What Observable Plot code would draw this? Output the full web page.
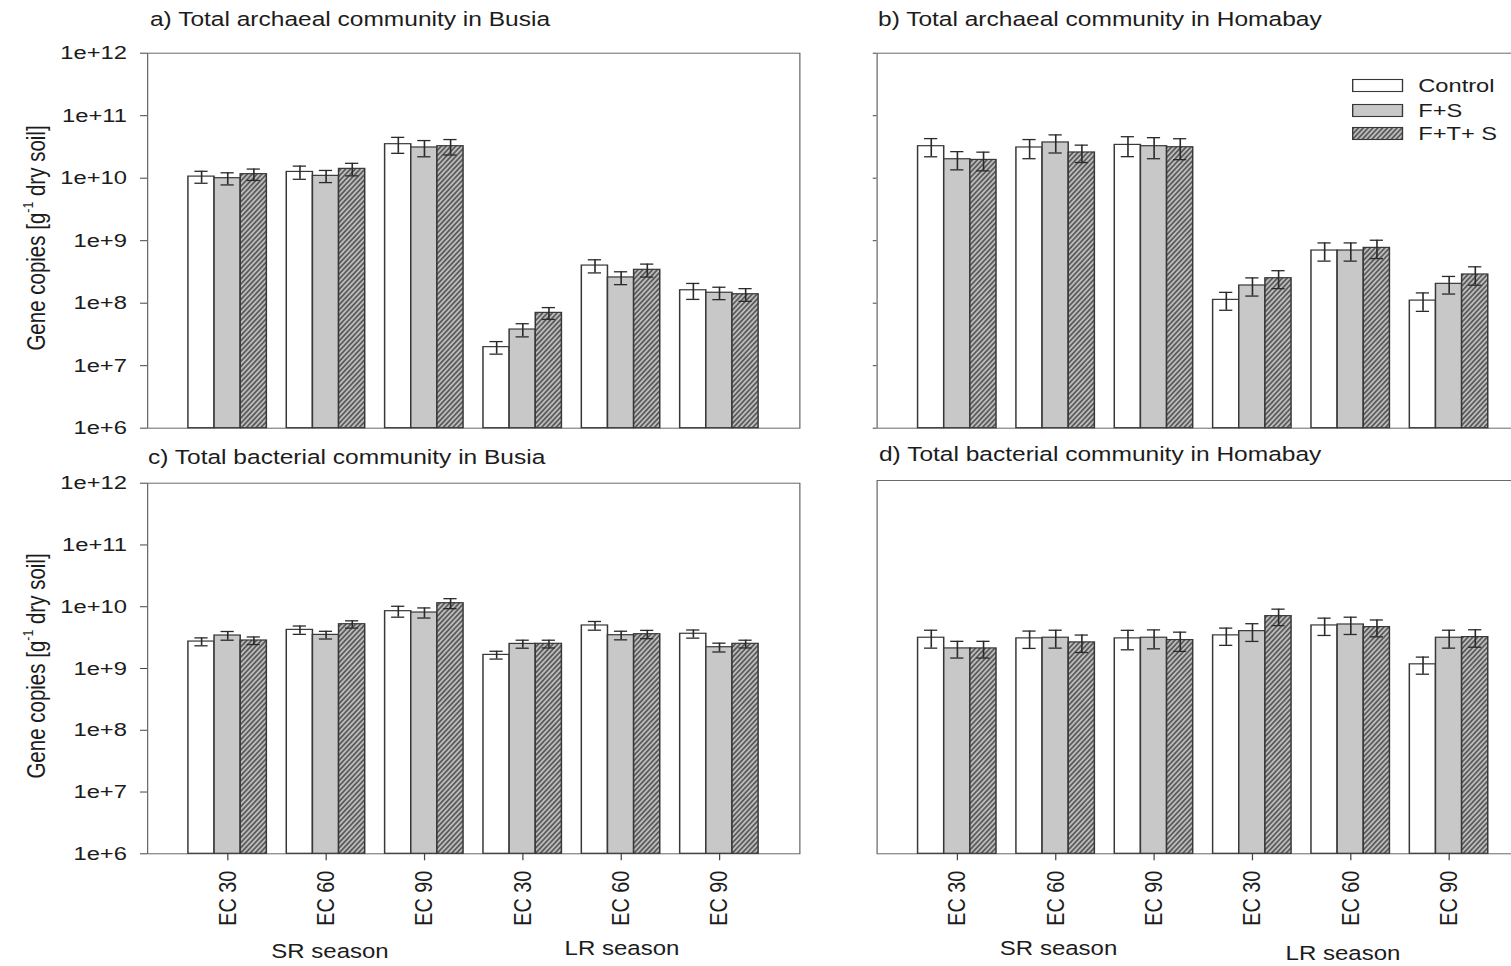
<!DOCTYPE html>
<html>
<head>
<meta charset="utf-8">
<script src="https://cdn.jsdelivr.net/npm/d3@7"></script>
<script src="https://cdn.jsdelivr.net/npm/@observablehq/plot@0.6"></script>
<style>
  html, body { margin: 0; padding: 0; background: #fff; }
  #page { position: relative; width: 1511px; height: 966px; overflow: hidden; background: #fff; }
  /* the whole figure is laid out narrow and widened horizontally */
  #figure { position: absolute; left: 0; top: 0; width: 1214px; height: 966px;
            transform: scaleX(1.245); transform-origin: 0 0;
            font-family: "Liberation Sans", Arial, sans-serif; color: #1c1c1c; }
  .panel { position: absolute; }
  .panel svg { position: absolute; left: 0; top: 0; }
  .title { position: absolute; font-size: 19.7px; line-height: 19.7px; white-space: nowrap; }
  .ylab { position: absolute; font-size: 20.5px; line-height: 20.5px; white-space: nowrap;
          transform: translate(-50%, -50%) rotate(-90deg); }
  .ylab sup { font-size: 0.6em; position: relative; top: -0.15em; }
  .season { position: absolute; font-size: 19.3px; line-height: 19.3px; white-space: nowrap;
            transform: translateX(-50%); }
  .legend-item { position: absolute; font-size: 19px; line-height: 19px; white-space: nowrap; }
  .legend-item svg { position: absolute; left: 0; top: 0; overflow: visible; }
</style>
</head>
<body>
<div id="page"><div id="figure"></div></div>
<script>
const S = 1.245; // horizontal widening of the figure

// ---- categories ----
const treatments = ["Control", "F+S", "F+T+ S"];
const seasons = ["SR", "SR", "SR", "LR", "LR", "LR"];
const ecLevels = ["EC 30", "EC 60", "EC 90", "EC 30", "EC 60", "EC 90"];
const groupKeys = seasons.map((s, i) => `${s} ${ecLevels[i]}`);
const seasonLabels = ["SR season", "LR season"];

// ---- y ticks ----
const yTickValues = [1e6, 1e7, 1e8, 1e9, 1e10, 1e11, 1e12];
const yTickLabels = ["1e+6", "1e+7", "1e+8", "1e+9", "1e+10", "1e+11", "1e+12"];

// ---- a) archaea, Busia (gene copies per g dry soil, mean and error) ----
const archBusiaControl    = [1.06e10, 1.26e10, 3.5e10, 1.98e7, 4.0e8, 1.61e8];
const archBusiaControlErr = [2.3e9, 3.0e9, 1.0e10, 4.5e6, 9.5e7, 4.6e7];
const archBusiaFS         = [1.0e10, 1.09e10, 3.1e10, 3.79e7, 2.58e8, 1.47e8];
const archBusiaFSErr      = [2.2e9, 2.4e9, 9.0e9, 9.0e6, 6.0e7, 3.3e7];
const archBusiaFTS        = [1.16e10, 1.41e10, 3.25e10, 7.0e7, 3.42e8, 1.39e8];
const archBusiaFTSErr     = [2.4e9, 3.2e9, 9.0e9, 1.5e7, 8.0e7, 3.2e7];

// ---- b) archaea, Homabay ----
const archHomaControl    = [3.25e10, 3.1e10, 3.41e10, 1.13e8, 6.96e8, 1.1e8];
const archHomaControlErr = [1.05e10, 1.05e10, 1.2e10, 3.6e7, 2.25e8, 3.6e7];
const archHomaFS         = [2.01e10, 3.73e10, 3.25e10, 1.92e8, 6.96e8, 2.04e8];
const archHomaFSErr      = [6.5e9, 1.2e10, 1.2e10, 6.2e7, 2.25e8, 6.4e7];
const archHomaFTS        = [1.96e10, 2.58e10, 3.13e10, 2.51e8, 7.67e8, 2.88e8];
const archHomaFTSErr     = [6.5e9, 8.0e9, 1.15e10, 8.0e7, 2.5e8, 9.4e7];

// ---- c) bacteria, Busia ----
const bactBusiaControl    = [2.73e9, 4.22e9, 8.47e9, 1.66e9, 4.97e9, 3.65e9];
const bactBusiaControlErr = [4.0e8, 6.5e8, 1.7e9, 2.4e8, 8.0e8, 5.5e8];
const bactBusiaFS         = [3.42e9, 3.5e9, 8.06e9, 2.5e9, 3.46e9, 2.21e9];
const bactBusiaFSErr      = [5.5e8, 5.0e8, 1.5e9, 3.7e8, 5.5e8, 3.6e8];
const bactBusiaFTS        = [2.84e9, 5.21e9, 1.14e10, 2.51e9, 3.59e9, 2.51e9];
const bactBusiaFTSErr     = [4.0e8, 7.0e8, 2.1e9, 3.6e8, 5.5e8, 3.6e8];

// ---- d) bacteria, Homabay ----
const bactHomaControl    = [2.97e9, 2.9e9, 2.9e9, 3.24e9, 4.68e9, 1.11e9];
const bactHomaControlErr = [9.5e8, 9.0e8, 1.0e9, 1.0e9, 1.45e9, 3.4e8];
const bactHomaFS         = [2.0e9, 2.97e9, 2.97e9, 3.79e9, 4.85e9, 2.97e9];
const bactHomaFSErr      = [6.0e8, 9.5e8, 1.0e9, 1.2e9, 1.5e9, 9.5e8];
const bactHomaFTS        = [2.0e9, 2.5e9, 2.72e9, 6.6e9, 4.4e9, 3.04e9];
const bactHomaFTSErr     = [6.0e8, 7.8e8, 9.3e8, 1.95e9, 1.33e9, 9.5e8];

// long-format rows: one per bar
function rowsOf(ctrl, ctrlErr, fs, fsErr, fts, ftsErr) {
  const series = [[ctrl, ctrlErr], [fs, fsErr], [fts, ftsErr]];
  return groupKeys.flatMap((g, i) =>
    treatments.map((t, j) => ({group: g, treatment: t, value: series[j][0][i], err: series[j][1][i]})));
}

const fontFamily = '"Liberation Sans", Arial, sans-serif';
const figure = document.getElementById("figure");

function addText(cls, html, left, top) {
  const el = document.createElement("div");
  el.className = cls;
  el.innerHTML = html;
  el.style.left = left + "px";
  el.style.top = top + "px";
  figure.appendChild(el);
  return el;
}

function hatchDefs(id) {
  return () => {
    const defs = d3.create("svg:defs");
    const p = defs.append("pattern")
      .attr("id", id)
      .attr("patternUnits", "userSpaceOnUse")
      .attr("width", 3.1).attr("height", 3.1)
      .attr("patternTransform", "rotate(37)");
    p.append("rect").attr("width", 3.1).attr("height", 3.1).attr("fill", "#bcbcbc");
    p.append("line").attr("x1", 1.55).attr("x2", 1.55).attr("y1", -1).attr("y2", 4.1)
      .attr("stroke", "#2e2e2e").attr("stroke-width", 1.05);
    return defs.node();
  };
}

function drawPanel({id, left, top, marginTop, marginBottom, marginLeft, marginRight, height,
                    rows, tickLabels, yTicks, xLabels}) {
  const innerWidth = 523.9;
  const width = marginLeft + innerWidth + marginRight;
  const hatchId = "hatch-" + id;
  const style = {background: "transparent", fontSize: "19.1px", fontFamily, color: "#1c1c1c",
                 overflow: "visible", maxWidth: "none"};
  const common = {width, height, marginTop, marginBottom, marginLeft, marginRight, style};
  const yScale = {type: "log", domain: [1e6, 1e12]};
  const bandPadding = {paddingInner: 0.2, paddingOuter: 0.4};

  // frame, axes and group ticks
  const axes = Plot.plot({
    ...common,
    x: {type: "band", domain: groupKeys, ...bandPadding, axis: xLabels ? undefined : null},
    y: {...yScale, axis: yTicks ? undefined : null},
    marks: [
      hatchDefs(hatchId),
      Plot.frame({stroke: "#6a6a6a", strokeWidth: 1}),
      yTicks ? Plot.axisY({
        ticks: yTickValues,
        tickSize: tickLabels ? 5.6 : 3,
        tickPadding: 11,
        stroke: "#444",
        tickFormat: tickLabels ? (d => yTickLabels[yTickValues.indexOf(d)]) : (() => ""),
        label: null
      }) : null,
      xLabels ? Plot.axisX({
        tickSize: 7,
        tickPadding: 10,
        tickRotate: -90,
        fontSize: 19.8,
        stroke: "#444",
        tickFormat: k => ecLevels[groupKeys.indexOf(k)],
        label: null
      }) : null
    ]
  });

  // grouped bars with error bars
  const bars = Plot.plot({
    ...common,
    fx: {domain: groupKeys, ...bandPadding, axis: null, label: null},
    x: {domain: treatments, padding: 0, axis: null},
    y: {...yScale, axis: null},
    color: {domain: treatments, range: ["#ffffff", "#c8c8c8", `url(#${hatchId})`]},
    marks: [
      Plot.barY(rows, {fx: "group", x: "treatment", y1: 1e6, y2: "value", fill: "treatment",
                       stroke: "#383838", strokeWidth: 1.2}),
      Plot.ruleX(rows, {fx: "group", x: "treatment", y1: d => d.value - d.err, y2: d => d.value + d.err,
                        stroke: "#2a2a2a", strokeWidth: 1.3}),
      Plot.tickY(rows, {fx: "group", x: "treatment", y: d => d.value + d.err,
                        insetLeft: 5.2, insetRight: 5.2, stroke: "#2a2a2a", strokeWidth: 1.3}),
      Plot.tickY(rows, {fx: "group", x: "treatment", y: d => d.value - d.err,
                        insetLeft: 5.2, insetRight: 5.2, stroke: "#2a2a2a", strokeWidth: 1.3})
    ]
  });

  const div = document.createElement("div");
  div.className = "panel";
  Object.assign(div.style, {left: left + "px", top: top + "px", width: width + "px", height: height + "px"});
  div.appendChild(axes);
  div.appendChild(bars);
  figure.appendChild(div);
}

// a) and b): top row
drawPanel({id: "a", left: 0, top: 0, marginTop: 52.7, marginBottom: 8.3, marginLeft: 118.07, marginRight: 12,
           height: 436, rows: rowsOf(archBusiaControl, archBusiaControlErr, archBusiaFS, archBusiaFSErr, archBusiaFTS, archBusiaFTSErr),
           yTicks: true, tickLabels: true, xLabels: false});
drawPanel({id: "b", left: 692.2, top: 0, marginTop: 52.7, marginBottom: 8.3, marginLeft: 12, marginRight: 12,
           height: 436, rows: rowsOf(archHomaControl, archHomaControlErr, archHomaFS, archHomaFSErr, archHomaFTS, archHomaFTSErr),
           yTicks: true, tickLabels: false, xLabels: false});
// c) and d): bottom row
drawPanel({id: "c", left: 0, top: 440, marginTop: 42.7, marginBottom: 112.7, marginLeft: 118.07, marginRight: 12,
           height: 526, rows: rowsOf(bactBusiaControl, bactBusiaControlErr, bactBusiaFS, bactBusiaFSErr, bactBusiaFTS, bactBusiaFTSErr),
           yTicks: true, tickLabels: true, xLabels: true});
drawPanel({id: "d", left: 692.2, top: 440, marginTop: 40, marginBottom: 112.7, marginLeft: 12, marginRight: 12,
           height: 526, rows: rowsOf(bactHomaControl, bactHomaControlErr, bactHomaFS, bactHomaFSErr, bactHomaFTS, bactHomaFTSErr),
           yTicks: false, tickLabels: false, xLabels: true});

// panel titles (top = baseline - ascent share of the line box)
const titleShift = 0.8465 * 19.7;
addText("title", "a) Total archaeal community in Busia", 150 / S, 27 - titleShift);
addText("title", "b) Total archaeal community in Homabay", 878 / S, 27 - titleShift);
addText("title", "c) Total bacterial community in Busia", 148 / S, 465 - titleShift);
addText("title", "d) Total bacterial community in Homabay", 879 / S, 462 - titleShift);

// y axis titles
const yTitle = "Gene copies [g<sup>-1</sup> dry soil]";
addText("ylab", yTitle, 33 / S, 238);
addText("ylab", yTitle, 33 / S, 666);

// season labels under the group ticks
const seasonShift = 0.8465 * 19.3;
addText("season", seasonLabels[0], 330 / S, 958 - seasonShift);
addText("season", seasonLabels[1], 622 / S, 955 - seasonShift);
addText("season", seasonLabels[0], 1058.6 / S, 955 - seasonShift);
addText("season", seasonLabels[1], 1343 / S, 960 - seasonShift);

// legend inside panel b
const legendFills = ["#ffffff", "#c8c8c8", "url(#hatch-b)"];
const legendRowsY = [85.6, 110, 133.5];
treatments.forEach((t, i) => {
  const item = addText("legend-item", "", 1352.3 / S, legendRowsY[i] - 6.5);
  const sw = d3.create("svg").attr("width", 41).attr("height", 13);
  sw.append("rect").attr("x", 0.5).attr("y", 0.5).attr("width", 40).attr("height", 12)
    .attr("fill", legendFills[i]).attr("stroke", "#383838").attr("stroke-width", 1.1);
  item.appendChild(sw.node());
  const label = document.createElement("span");
  label.textContent = t;
  Object.assign(label.style, {position: "absolute", left: (1418.3 - 1352.3) / S + "px",
                              top: (6.5 - 0.8465 * 19 + 6.8) + "px"});
  item.appendChild(label);
});
</script>
</body>
</html>
